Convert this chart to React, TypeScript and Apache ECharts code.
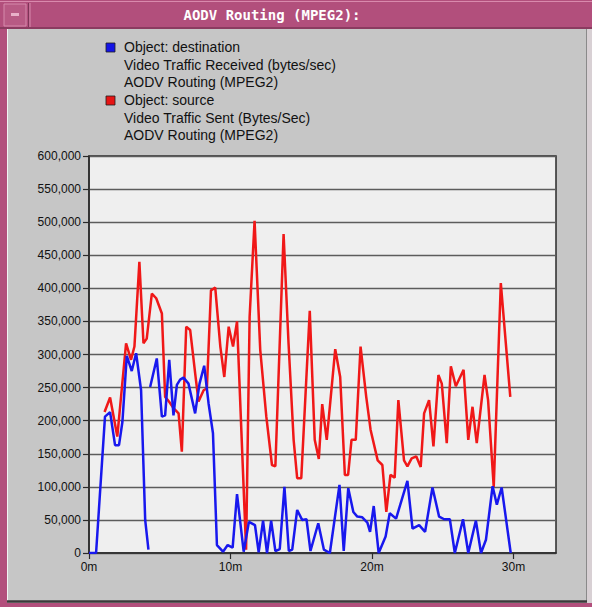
import { useEffect, useRef } from "react";
import * as echarts from "echarts";

// Window caption and legend lines
const chartTitle = "AODV Routing (MPEG2):";
const legendDest = [
  "Object: destination",
  "Video Traffic Received (bytes/sec)",
  "AODV Routing (MPEG2)",
];
const legendSrc = [
  "Object: source",
  "Video Traffic Sent (Bytes/Sec)",
  "AODV Routing (MPEG2)",
];

// Axis ticks
const xTicks = [0, 10, 20, 30];
const yMax = 600000;
const yStep = 50000;

// destination: video traffic received (bytes/sec), time in minutes
const destTime = [
  0, 0.5, 1.13, 1.49, 1.84, 2.12, 2.36, 2.67, 3.02, 3.33, 3.68, 3.97, 4.2, 4.26,
  4.32, 4.79, 5.15, 5.38, 5.67, 5.97, 6.21, 6.44, 6.68, 7.03, 7.5, 7.81, 8.14,
  8.45, 8.76, 9.04, 9.47, 9.8, 10.15, 10.46, 10.93, 11.3, 11.73, 11.99, 12.3,
  12.58, 12.87, 13.17, 13.48, 13.81, 14.12, 14.36, 14.71, 15.06, 15.37, 15.65,
  16.2, 16.6, 17.02, 17.7, 18.0, 18.32, 18.68, 18.96, 19.31, 19.67, 19.86,
  20.12, 20.47, 20.96, 21.25, 21.7, 22.5, 22.86, 23.33, 23.75, 24.27, 24.74,
  25.1, 25.5, 25.85, 26.43, 26.8, 27.34, 27.7, 28.05, 28.52, 28.82, 29.16, 29.8,
];
const destValue = [
  0, 0, 206000, 213000, 163000, 163000, 198000, 298000, 275000, 302000, 246000,
  50000, 5000, null, 251000, 294000, 206000, 208000, 292000, 208000, 254000,
  262000, 265000, 256000, 211000, 256000, 283000, 226000, 181000, 12000, 2000,
  12000, 8000, 89000, 2000, 47000, 42000, 1000, 49000, 0, 49000, 3000, 6000,
  100000, 3000, 5000, 65000, 50000, 51000, 3000, 45000, 5000, 0, 103000, 3000,
  98000, 62000, 55000, 54000, 46000, 32000, 71000, 0, 25000, 60000, 52000,
  109000, 37000, 42000, 32000, 99000, 55000, 51000, 51000, 0, 51000, 0, 49000,
  0, 20000, 101000, 73000, 99000, 0,
];

// source: video traffic sent (bytes/sec), time in minutes
const srcTime = [
  1.1, 1.49, 2.0, 2.62, 2.97, 3.21, 3.56, 3.85, 4.08, 4.44, 4.75, 5.15, 5.38,
  5.65, 5.97, 6.33, 6.56, 6.87, 7.15, 7.5, 7.74, 8.1, 8.33, 8.62, 8.92, 9.28,
  9.56, 9.87, 10.18, 10.46, 11.1, 11.35, 11.7, 12.1, 12.53, 12.93, 13.17, 13.75,
  14.1, 14.46, 14.71, 15.0, 15.6, 15.95, 16.24, 16.48, 16.8, 17.4, 17.75, 18.08,
  18.31, 18.55, 18.85, 19.19, 19.59, 19.9, 20.4, 20.73, 21.01, 21.3, 21.6,
  21.86, 22.26, 22.5, 22.8, 23.13, 23.44, 23.68, 24.03, 24.34, 24.69, 24.93,
  25.28, 25.57, 25.92, 26.47, 26.8, 27.1, 27.4, 27.95, 28.2, 28.6, 29.1, 29.77,
];
const srcValue = [
  213000, 235000, 176000, 317000, 292000, 312000, 440000, 317000, 324000,
  392000, 385000, 362000, 236000, 229000, 219000, 211000, 153000, 342000,
  337000, 272000, 229000, 246000, 249000, 397000, 401000, 312000, 266000,
  342000, 312000, 350000, 5000, 357000, 502000, 307000, 206000, 133000, 131000,
  482000, 317000, 171000, 113000, 113000, 366000, 171000, 142000, 225000,
  171000, 308000, 266000, 118000, 118000, 171000, 171000, 312000, 236000,
  186000, 140000, 133000, 62000, 118000, 114000, 231000, 140000, 131000,
  143000, 146000, 130000, 211000, 231000, 161000, 269000, 256000, 166000,
  282000, 252000, 277000, 171000, 221000, 166000, 269000, 231000, 100000,
  408000, 236000,
];

const toPairs = (t: number[], v: (number | null)[]) =>
  t.map((x, i) => [x, v[i] === null ? "-" : v[i]]);

const FRAME_PINK = "#b24f7c";
const PANEL_GRAY = "#c6c6c6";
const SANS = "'Liberation Sans', Arial, sans-serif";

function legendBlock(color: string, lines: string[], top: number) {
  const out: any[] = [
    {
      type: "rect",
      shape: { x: 106, y: top - 4, width: 9, height: 9 },
      style: { fill: color, stroke: "#202020", lineWidth: 0.8 },
    },
  ];
  lines.forEach((s, i) => {
    out.push({
      type: "text",
      x: 124,
      y: top + i * 17.6,
      style: {
        text: s,
        font: `14px ${SANS}`,
        fill: "#111",
        verticalAlign: "middle",
        align: "left",
      },
    });
  });
  return out;
}

export default function App() {
  const ref = useRef<HTMLDivElement>(null);

  useEffect(() => {
    document.body.style.margin = "0";
    if (!ref.current) return;
    const chart = echarts.init(ref.current, undefined, { renderer: "svg" });

    const frame: any[] = [
      // title bar
      { type: "rect", shape: { x: 0, y: 0, width: 592, height: 29 }, style: { fill: FRAME_PINK } },
      { type: "line", shape: { x1: 0, y1: 1.5, x2: 592, y2: 1.5 }, style: { stroke: "#d98aad", lineWidth: 1 } },
      { type: "line", shape: { x1: 0, y1: 28, x2: 592, y2: 28 }, style: { stroke: "#7e3457", lineWidth: 1.5 } },
      // menu button
      { type: "rect", shape: { x: 4, y: 4, width: 22, height: 22 }, style: { fill: "#b85a84", stroke: "#d58aab", lineWidth: 1 } },
      { type: "rect", shape: { x: 11, y: 13, width: 8, height: 3 }, style: { fill: "#e8b0c8" } },
      { type: "line", shape: { x1: 28.5, y1: 3, x2: 28.5, y2: 27 }, style: { stroke: "#7e3457", lineWidth: 1 } },
      { type: "line", shape: { x1: 30, y1: 3, x2: 30, y2: 27 }, style: { stroke: "#d58aab", lineWidth: 1 } },
      {
        type: "text",
        x: 272,
        y: 15,
        style: {
          text: chartTitle,
          font: "bold 14px 'DejaVu Sans Mono', monospace",
          fill: "#ffffff",
          align: "center",
          verticalAlign: "middle",
        },
      },
      // window borders
      { type: "rect", shape: { x: 0, y: 29, width: 7, height: 578 }, style: { fill: FRAME_PINK } },
      { type: "line", shape: { x1: 7.5, y1: 29, x2: 7.5, y2: 601 }, style: { stroke: "#f2f2f2", lineWidth: 1 } },
      { type: "rect", shape: { x: 587, y: 29, width: 5, height: 578 }, style: { fill: "#d8d0d4" } },
      { type: "line", shape: { x1: 586.5, y1: 29, x2: 586.5, y2: 602 }, style: { stroke: "#8a8a8a", lineWidth: 1 } },
      { type: "rect", shape: { x: 0, y: 603, width: 592, height: 4 }, style: { fill: FRAME_PINK } },
      { type: "line", shape: { x1: 7, y1: 601.5, x2: 587, y2: 601.5 }, style: { stroke: "#3a3a3a", lineWidth: 2.5 } },
      ...legendBlock("#1414e6", legendDest, 47),
      ...legendBlock("#e61414", legendSrc, 100),
    ];

    chart.setOption({
      animation: false,
      backgroundColor: PANEL_GRAY,
      graphic: { elements: frame },
      grid: {
        left: 89,
        top: 156,
        right: 36,
        bottom: 54,
        show: true,
        backgroundColor: "#efefef",
        borderColor: "#2a2a2a",
        borderWidth: 1.5,
      },
      xAxis: {
        type: "value",
        min: 0,
        max: 33,
        interval: 10,
        splitLine: { show: false },
        axisLine: { show: true, lineStyle: { color: "#2a2a2a", width: 1.5 } },
        axisTick: {
          show: true,
          length: 6,
          customValues: xTicks,
          lineStyle: { color: "#2a2a2a", width: 1.2 },
        },
        axisLabel: {
          customValues: xTicks,
          formatter: (v: number) => `${v}m`,
          color: "#111",
          fontFamily: SANS,
          fontSize: 12,
          margin: 8,
        },
      },
      yAxis: {
        type: "value",
        min: 0,
        max: yMax,
        interval: yStep,
        axisLine: { show: true, lineStyle: { color: "#2a2a2a", width: 1.5 } },
        axisTick: { show: true, length: 6, lineStyle: { color: "#2a2a2a", width: 1.2 } },
        splitLine: { show: true, lineStyle: { color: "#5c5c5c", width: 1.3 } },
        axisLabel: {
          formatter: (v: number) => v.toLocaleString("en-US"),
          color: "#111",
          fontFamily: SANS,
          fontSize: 12,
          margin: 8,
        },
      },
      series: [
        {
          name: "source",
          type: "line",
          data: toPairs(srcTime, srcValue),
          symbol: "none",
          lineStyle: { color: "#f01818", width: 2.5 },
          z: 2,
        },
        {
          name: "destination",
          type: "line",
          data: toPairs(destTime, destValue),
          symbol: "none",
          connectNulls: false,
          lineStyle: { color: "#1818ee", width: 2.5 },
          z: 3,
        },
      ],
    });

    return () => chart.dispose();
  }, []);

  return <div ref={ref} style={{ width: 592, height: 607 }} />;
}
